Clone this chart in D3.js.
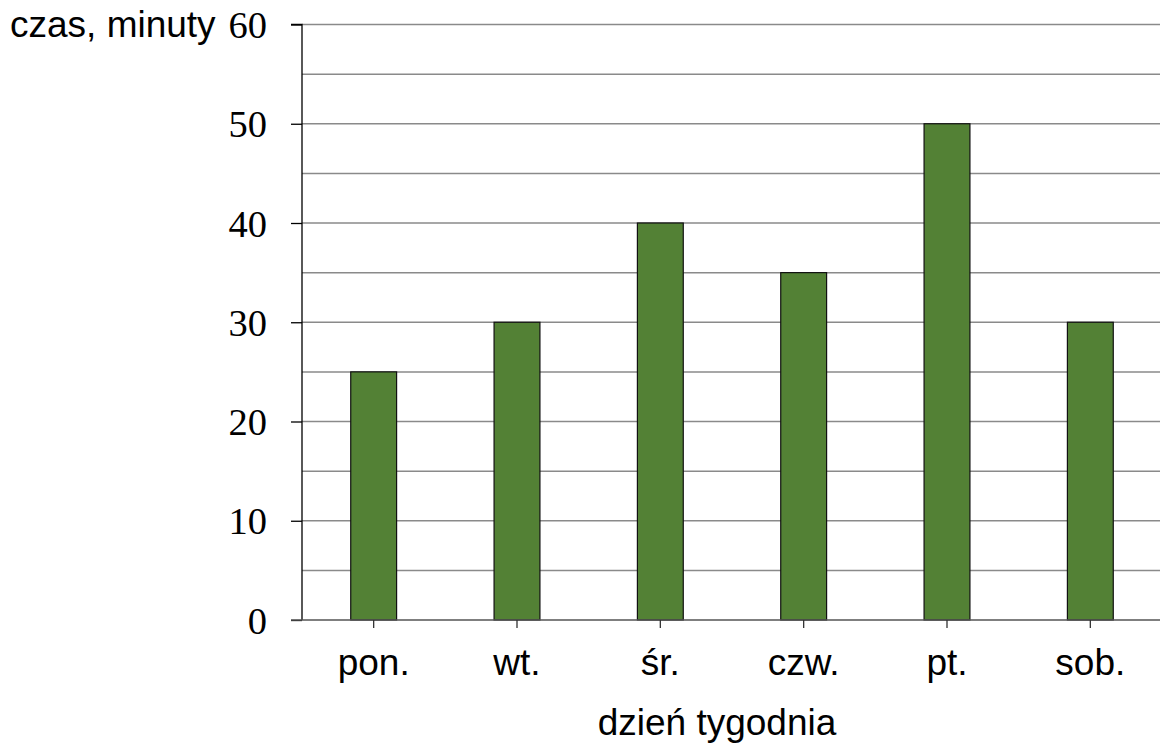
<!DOCTYPE html>
<html><head><meta charset="utf-8">
<script src="https://cdn.jsdelivr.net/npm/d3@7"></script>
<style>body{margin:0;background:#fff}svg{display:block}</style>
</head><body>
<svg id="c" width="1160" height="749"></svg>
<script>
const categories = ["pon.", "wt.", "śr.", "czw.", "pt.", "sob."];
const values = [25, 30, 40, 35, 50, 30];
const yTicks = [0, 10, 20, 30, 40, 50, 60];
const gridValues = [5, 10, 15, 20, 25, 30, 35, 40, 45, 50, 55, 60];
const yLabel = "czas, minuty";
const xLabel = "dzień tygodnia";

const svg = d3.select("#c");
const pLeft = 302, pRight = 1162, pTop = 24.5, pBottom = 620;
const x = d3.scaleBand().domain(categories).range([pLeft, pRight]).paddingInner(0.68).paddingOuter(0.34);
const y = d3.scaleLinear().domain([0, 60]).range([pBottom, pTop]);

// gridlines
svg.append("g").selectAll("line").data(gridValues).join("line")
  .attr("x1", pLeft).attr("x2", 1160)
  .attr("y1", d => y(d)).attr("y2", d => y(d))
  .attr("stroke", "#8a8a8a").attr("stroke-width", 1.5);

// bars
svg.append("g").selectAll("rect").data(values).join("rect")
  .attr("x", (d, i) => x(categories[i]))
  .attr("width", x.bandwidth())
  .attr("y", d => y(d))
  .attr("height", d => y(0) - y(d))
  .attr("fill", "#538135").attr("stroke", "#111").attr("stroke-width", 1.2);

// y axis
const yAxis = d3.axisLeft(y).tickValues(yTicks).tickSize(11).tickPadding(24).tickFormat(d3.format("d"));
const gy = svg.append("g").attr("transform", `translate(${pLeft},0)`).call(yAxis);
gy.select(".domain").attr("stroke", "#000").attr("stroke-width", 1.3).attr("d", `M-11,${pTop}H0V${pBottom}`);
gy.selectAll(".tick line").attr("stroke", "#000").attr("stroke-width", 1.3);
gy.selectAll(".tick text").attr("font-family", "'Liberation Serif', serif").attr("font-size", 38.5).attr("fill", "#000").attr("dy", "0.34em");

// x axis
const xAxis = d3.axisBottom(x).tickSize(8).tickPadding(21);
const gx = svg.append("g").attr("transform", `translate(0,${pBottom})`).call(xAxis);
gx.select(".domain").attr("stroke", "#555").attr("stroke-width", 1.5).attr("d", `M291,0H1160`);
gx.selectAll(".tick line").attr("stroke", "#333").attr("stroke-width", 1.3);
gx.selectAll(".tick text").attr("font-family", "'Liberation Sans', Arial, sans-serif").attr("font-size", 37).attr("fill", "#000");

// labels
svg.append("text").attr("x", 10).attr("y", 37).text(yLabel)
  .attr("font-family", "'Liberation Sans', Arial, sans-serif").attr("font-size", 37).attr("fill", "#000");
svg.append("text").attr("x", 717).attr("y", 735).attr("text-anchor", "middle").text(xLabel)
  .attr("font-family", "'Liberation Sans', Arial, sans-serif").attr("font-size", 37).attr("fill", "#000");
</script>
</body></html>
